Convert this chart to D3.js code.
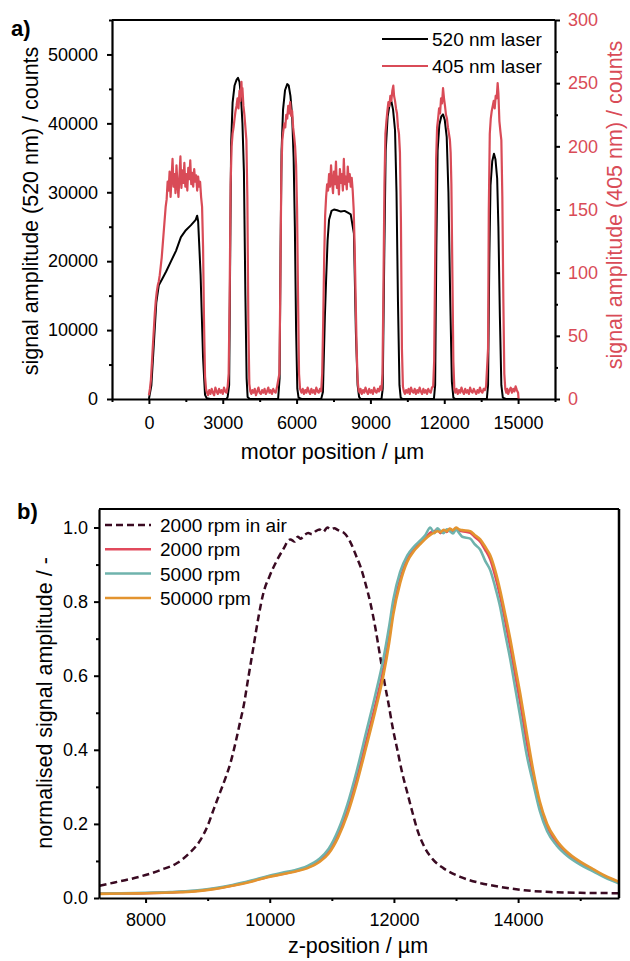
<!DOCTYPE html>
<html><head><meta charset="utf-8">
<script src="https://cdn.jsdelivr.net/npm/d3@7"></script>
<style>
html,body{margin:0;padding:0;background:#fff;}
text{font-family:"Liberation Sans",Arial,sans-serif;}
</style></head>
<body><svg id="c" width="630" height="961"></svg>
<script>
// ---------- Panel a data ----------
const black520X = [0,100,200,300,400,550,700,900,1100,1300,1500,1700,1900,1960,2000,2100,2200,2280,2350,2500,
 3150,3200,3260,3300,3340,3400,3480,3560,3620,3680,3740,3800,3860,3920,3970,4010,4100,
 5250,5310,5350,5390,5450,5530,5620,5680,5750,5820,5880,5930,5980,6030,6080,6200,
 7000,7070,7150,7200,7260,7320,7420,7520,7650,7800,7950,8100,8200,8260,8330,8410,8480,8540,8600,
 9450,9500,9560,9620,9700,9780,9850,9920,10000,10060,10120,10180,10230,10300,
 11580,11630,11680,11730,11800,11880,11950,12020,12100,12170,12240,12310,12370,12450,
 13730,13780,13830,13880,13950,14020,14080,14150,14200,14260,14320,14380,14500,15000];
const black520Y = [0,2000,8000,14000,16500,17500,18500,20000,21500,23500,24500,25200,26000,26600,25800,18000,6000,600,100,0,
 0,300,2000,20000,37000,43000,45500,46300,46600,46000,44000,40000,33000,15000,3000,300,0,
 0,3000,22000,36000,42000,44800,45700,45500,44000,41000,35000,25000,10000,1500,200,0,
 0,1000,12000,17300,23000,26000,27300,27500,27400,27200,27300,27000,26800,25500,24000,9600,2000,300,0,
 0,1500,20000,36000,41000,42800,43200,42000,39000,30000,14000,2000,200,0,
 0,2000,22000,36000,39800,41000,41300,40500,38000,30000,15000,2500,200,0,
 0,2000,20000,31000,34500,35600,34800,32000,25000,12000,2000,200,0,0];
const red405X = [0,40,80,120,160,200,240,280,320,360,400,440,480,520,560,600,640,680,720,
 760,800,840,880,920,960,1000,1040,1080,1120,1160,1200,1240,1280,1320,1360,1400,1440,1480,1520,1560,1600,1640,1680,1720,1760,1800,1840,1880,1920,1960,2000,2040,2080,2120,2160,2200,2240,2280,2320,
 2360,2400,2450,2500,2550,2600,2650,2700,2750,2800,2850,2900,2950,3000,3050,3100,3150,3200,
 3240,3280,3320,3360,3400,3440,3480,3520,3560,3600,3640,3680,3720,3760,3780,3800,3840,3880,3920,3960,4000,4040,4080,4120,
 4160,4200,4250,4300,4350,4400,4450,4500,4550,4600,4650,4700,4750,4800,4850,4900,4950,5000,5050,5100,5150,5200,
 5300,5340,5380,5420,5460,5500,5540,5580,5620,5660,5700,5740,5780,5820,5860,5900,5940,5980,6020,6060,6100,6140,
 6200,6250,6300,6350,6400,6450,6500,6550,6600,6650,6700,6750,6800,6850,6900,6950,7000,
 7040,7080,7120,7160,7200,7240,7280,7320,7360,7400,7440,7480,7520,7560,7600,7640,7680,7720,7760,7800,7840,7880,7920,7960,8000,8040,8080,8120,8160,8200,8240,8280,8320,8360,8400,8440,8480,8520,
 8560,8600,8650,8700,8750,8800,8850,8900,8950,9000,9050,9100,9150,9200,9250,9300,9350,9400,9450,
 9490,9530,9570,9610,9650,9690,9730,9770,9810,9850,9890,9930,9960,10000,10040,10080,10120,10160,10200,10240,10280,10320,10360,
 10400,10450,10500,10550,10600,10650,10700,10750,10800,10850,10900,10950,11000,11050,11100,11150,11200,11250,11300,11350,11400,11450,11500,11550,
 11590,11630,11670,11710,11750,11790,11830,11870,11910,11950,11990,12030,12070,12110,12150,12190,12230,12260,12290,12330,12370,12410,
 12450,12500,12550,12600,12650,12700,12750,12800,12850,12900,12950,13000,13050,13100,13150,13200,13250,13300,13350,13400,13450,13500,13550,13600,13650,13700,
 13780,13810,13850,13890,13930,13970,14010,14050,14090,14130,14170,14200,14240,14280,14320,14360,14400,14440,14480,
 14520,14560,14600,14650,14700,14750,14800,14850,14900,14950,15000,15020];
const red405Y = [3,8,15,28,42,55,68,78,85,90,93,98,105,112,122,132,142,152,158,
 172,165,180,160,175,190,168,178,163,185,170,160,176,192,167,181,171,187,168,178,165,183,174,189,170,179,168,182,172,177,165,176,168,172,160,152,120,60,18,8,
 5,3,7,4,8,5,3,9,6,4,8,5,7,4,9,6,5,10,
 20,80,170,200,210,215,222,228,232,238,230,244,236,251,240,246,232,225,215,205,160,60,12,6,
 4,7,5,8,3,6,9,5,4,7,5,8,4,6,9,5,7,4,8,6,5,9,
 20,90,180,205,212,218,215,225,222,232,226,235,224,228,215,208,200,185,150,80,20,8,
 5,8,4,7,5,9,6,4,8,5,7,4,9,6,5,8,6,
 20,60,110,145,160,170,165,178,168,185,172,163,180,170,188,167,176,162,182,171,178,165,190,170,176,166,184,172,178,168,175,165,150,120,80,40,15,7,
 5,8,4,7,5,9,6,4,8,5,7,4,9,6,5,8,6,10,7,
 20,90,170,210,220,228,235,232,240,236,244,248,240,236,230,226,215,210,195,140,40,10,6,
 4,7,5,8,4,9,6,5,8,4,7,5,9,6,4,8,5,7,4,8,6,5,9,10,
 30,110,190,215,222,230,226,238,234,246,238,232,225,222,215,210,205,195,170,100,30,8,
 5,8,4,7,5,9,6,4,8,5,7,4,9,6,5,8,6,4,7,5,9,6,5,8,7,10,
 40,150,210,222,228,232,236,230,240,238,250,242,220,212,205,160,80,20,8,
 5,8,4,7,9,5,8,6,10,7,5,0];
const xTicksA = [0,3000,6000,9000,12000,15000];
const xMinorA = [-1500,1500,4500,7500,10500,13500,16500];
const yTicksA = [0,10000,20000,30000,40000,50000];
const yMinorA = [5000,15000,25000,35000,45000,55000];
const y2TicksA = [0,50,100,150,200,250,300];
const y2MinorA = [25,75,125,175,225,275];
const legendA = ["520 nm laser","405 nm laser"];

// ---------- Panel b data ----------
const airX = [7260,7500,7750,8000,8250,8515,8700,8885,9000,9094,9200,9300,9368,9450,9529,9577,9650,9738,9820,9899,10000,10124,10230,10300,10333,10400,10450,10500,10560,10620,10680,10740,10800,10860,10928,10980,11040,11100,11138,11200,11300,11400,11460,11540,11620,11700,11780,11850,11910,11980,12055,12130,12216,12300,12377,12500,12634,12800,13068,13400,13712,14100,14517,15000,15620];
const airY = [0.033,0.042,0.051,0.062,0.076,0.095,0.12,0.157,0.195,0.238,0.285,0.33,0.365,0.42,0.48,0.516,0.59,0.678,0.76,0.824,0.87,0.914,0.945,0.965,0.968,0.962,0.975,0.97,0.98,0.985,0.982,0.99,0.995,0.988,1.0,0.995,0.998,0.993,0.99,0.985,0.96,0.92,0.895,0.85,0.797,0.73,0.65,0.58,0.527,0.46,0.40,0.34,0.284,0.23,0.184,0.135,0.103,0.08,0.057,0.04,0.03,0.021,0.016,0.014,0.013];
const solidX = [7260,7600,8000,8400,8800,9100,9400,9700,9963,10200,10400,10600,10800,10950,11100,11250,11400,11550,11700,11830,11920,11990,12100,12216,12320,12425,12500,12586,12650,12700,12750,12800,12850,12900,12950,13000,13050,13100,13229,13300,13390,13470,13551,13630,13712,13790,13873,13950,14034,14140,14243,14350,14468,14620,14790,15000,15208,15400,15620];
const rpm2000Y = [0.012,0.012,0.013,0.015,0.019,0.025,0.034,0.045,0.057,0.065,0.072,0.082,0.1,0.125,0.17,0.235,0.32,0.42,0.52,0.616,0.7,0.778,0.86,0.914,0.94,0.959,0.97,0.986,0.99,0.995,0.985,0.992,0.988,0.996,0.99,0.998,0.992,0.99,0.986,0.975,0.962,0.94,0.914,0.87,0.814,0.75,0.678,0.605,0.527,0.42,0.33,0.25,0.192,0.15,0.12,0.095,0.076,0.058,0.042];
const rpm5000Y = [0.012,0.013,0.014,0.016,0.02,0.026,0.035,0.047,0.059,0.068,0.075,0.086,0.106,0.133,0.182,0.252,0.342,0.445,0.548,0.645,0.73,0.805,0.88,0.925,0.948,0.965,0.978,1.0,0.985,0.998,0.99,0.985,0.995,0.99,0.984,0.994,0.985,0.975,0.97,0.955,0.94,0.91,0.885,0.84,0.785,0.715,0.645,0.57,0.49,0.385,0.31,0.235,0.18,0.142,0.114,0.09,0.072,0.055,0.04];
const rpm50000Y = [0.011,0.012,0.013,0.015,0.018,0.024,0.033,0.044,0.056,0.064,0.071,0.08,0.097,0.12,0.163,0.225,0.308,0.405,0.505,0.6,0.685,0.765,0.85,0.908,0.936,0.955,0.968,0.98,0.986,0.99,0.988,0.994,0.99,0.997,0.993,1.0,0.995,0.993,0.99,0.98,0.968,0.948,0.925,0.885,0.83,0.768,0.7,0.628,0.552,0.445,0.345,0.26,0.2,0.156,0.124,0.098,0.078,0.06,0.044];
const xTicksB = [8000,10000,12000,14000];
const xMinorB = [9000,11000,13000,15000];
const yTicksB = [0,0.2,0.4,0.6,0.8,1.0];
const yMinorB = [0.1,0.3,0.5,0.7,0.9];
const legendB = ["2000 rpm in air","2000 rpm","5000 rpm","50000 rpm"];

// ---------- drawing ----------
const svg = d3.select("#c");
const RED = "#d94b57";
const FS_TICK = 18, FS_TITLE = 21.5, FS_LEG = 19;

function styleAxis(g, color){
  g.select(".domain").attr("stroke", "#000").attr("stroke-width", 2.2);
  g.selectAll(".tick line").attr("stroke", "#000").attr("stroke-width", 2);
  g.selectAll(".tick text").attr("fill", color || "#000").style("font-size", FS_TICK + "px")
   .style("font-family", '"Liberation Sans",Arial,sans-serif');
}

// Panel a
const A = {l:112, r:555, t:20, b:399};
const xA = d3.scaleLinear().domain([-1500,16500]).range([A.l, A.r]);
const yA = d3.scaleLinear().domain([0,55000]).range([A.b, A.t]);
const y2A = d3.scaleLinear().domain([0,300]).range([A.b, A.t]);

svg.append("clipPath").attr("id","clipA").append("rect")
  .attr("x",A.l).attr("y",A.t).attr("width",A.r-A.l).attr("height",A.b-A.t);

const gA = svg.append("g");
const blackPts = black520X.map((x,i)=>[x, black520Y[i]]);
const redPts = red405X.map((x,i)=>[x, red405Y[i]]);
gA.append("path").datum(blackPts).attr("clip-path","url(#clipA)")
  .attr("fill","none").attr("stroke","#000").attr("stroke-width",2).attr("stroke-linejoin","round")
  .attr("d", d3.line().x(d=>xA(d[0])).y(d=>yA(d[1])));
gA.append("path").datum(redPts).attr("clip-path","url(#clipA)")
  .attr("fill","none").attr("stroke",RED).attr("stroke-width",2.2).attr("stroke-linejoin","round")
  .attr("d", d3.line().x(d=>xA(d[0])).y(d=>y2A(d[1])));

// axes a
gA.append("g").attr("transform",`translate(0,${A.b})`)
  .call(d3.axisBottom(xA).tickValues(xMinorA).tickSize(3).tickFormat(""))
  .call(g=>{styleAxis(g); g.select(".domain").remove();});
gA.append("g").attr("transform",`translate(0,${A.b})`)
  .call(d3.axisBottom(xA).tickValues(xTicksA).tickSize(5).tickPadding(12).tickSizeOuter(0).tickFormat(d3.format("d")))
  .call(g=>styleAxis(g));
gA.append("g").attr("transform",`translate(${A.l},0)`)
  .call(d3.axisLeft(yA).tickValues(yMinorA).tickSize(3).tickFormat(""))
  .call(g=>{styleAxis(g); g.select(".domain").remove();});
gA.append("g").attr("transform",`translate(${A.l},0)`)
  .call(d3.axisLeft(yA).tickValues(yTicksA).tickSize(5).tickPadding(9).tickSizeOuter(0).tickFormat(d3.format("d")))
  .call(g=>styleAxis(g));
gA.append("g").attr("transform",`translate(${A.r},0)`)
  .call(d3.axisRight(y2A).tickValues(y2MinorA).tickSize(3).tickFormat(""))
  .call(g=>{styleAxis(g); g.select(".domain").remove();});
gA.append("g").attr("transform",`translate(${A.r},0)`)
  .call(d3.axisRight(y2A).tickValues(y2TicksA).tickSize(5).tickPadding(8).tickSizeOuter(0).tickFormat(d3.format("d")))
  .call(g=>styleAxis(g, RED));
gA.append("line").attr("x1",A.l).attr("x2",A.r).attr("y1",A.t).attr("y2",A.t)
  .attr("stroke","#000").attr("stroke-width",2.2);

// titles a
svg.append("text").attr("x",(A.l+A.r)/2-1).attr("y",459).attr("text-anchor","middle")
  .style("font-size",FS_TITLE+"px").text("motor position / µm");
svg.append("text").attr("transform","translate(38,211) rotate(-90)").attr("text-anchor","middle")
  .style("font-size",FS_TITLE+"px").text("signal amplitude (520 nm) / counts");
svg.append("text").attr("transform","translate(622,205) rotate(-90)").attr("text-anchor","middle")
  .attr("fill",RED).style("font-size",FS_TITLE+"px").text("signal amplitude (405 nm) / counts");
svg.append("text").attr("x",11).attr("y",36).style("font-size","22px").style("font-weight","bold").text("a)");

// legend a
const legColA = ["#000", RED];
legendA.forEach((t,i)=>{
  const y = 39 + i*27;
  svg.append("line").attr("x1",382).attr("x2",428).attr("y1",y).attr("y2",y)
    .attr("stroke",legColA[i]).attr("stroke-width",2);
  svg.append("text").attr("x",432).attr("y",y+7).style("font-size",FS_LEG+"px").text(t);
});

// Panel b
const B = {l:99, r:619, t:509, b:898};
const xB = d3.scaleLinear().domain([7250,15625]).range([B.l, B.r]);
const yB = d3.scaleLinear().domain([0,1.05]).range([B.b, B.t]);
svg.append("clipPath").attr("id","clipB").append("rect")
  .attr("x",B.l).attr("y",B.t).attr("width",B.r-B.l).attr("height",B.b-B.t);
const gB = svg.append("g");
const lineB = d3.line().x(d=>xB(d[0])).y(d=>yB(d[1])).curve(d3.curveMonotoneX);
const solidSeries = [
  {y:rpm2000Y, c:"#e14a5c"},
  {y:rpm5000Y, c:"#6fb3ad"},
  {y:rpm50000Y, c:"#e3942f"}
];
gB.append("path").datum(airX.map((x,i)=>[x, airY[i]])).attr("clip-path","url(#clipB)")
  .attr("fill","none").attr("stroke","#3a0a22").attr("stroke-width",2.5).attr("stroke-dasharray","7,4")
  .attr("d", lineB);
solidSeries.forEach(s=>{
  gB.append("path").datum(solidX.map((x,i)=>[x, s.y[i]])).attr("clip-path","url(#clipB)")
    .attr("fill","none").attr("stroke",s.c).attr("stroke-width",2.6).attr("stroke-linejoin","round")
    .attr("d", lineB);
});

gB.append("g").attr("transform",`translate(0,${B.b})`)
  .call(d3.axisBottom(xB).tickValues(xMinorB).tickSize(3).tickFormat(""))
  .call(g=>{styleAxis(g); g.select(".domain").remove();});
gB.append("g").attr("transform",`translate(0,${B.b})`)
  .call(d3.axisBottom(xB).tickValues(xTicksB).tickSize(5).tickPadding(10).tickSizeOuter(0).tickFormat(d3.format("d")))
  .call(g=>styleAxis(g));
gB.append("g").attr("transform",`translate(${B.l},0)`)
  .call(d3.axisLeft(yB).tickValues(yMinorB).tickSize(3).tickFormat(""))
  .call(g=>{styleAxis(g); g.select(".domain").remove();});
gB.append("g").attr("transform",`translate(${B.l},0)`)
  .call(d3.axisLeft(yB).tickValues(yTicksB).tickSize(5).tickPadding(6).tickSizeOuter(0).tickFormat(d3.format(".1f")))
  .call(g=>styleAxis(g));
gB.append("line").attr("x1",B.l).attr("x2",B.r).attr("y1",B.t).attr("y2",B.t)
  .attr("stroke","#000").attr("stroke-width",2.2);
gB.append("line").attr("x1",B.r).attr("x2",B.r).attr("y1",B.t).attr("y2",B.b)
  .attr("stroke","#000").attr("stroke-width",2.5);

svg.append("text").attr("x",358).attr("y",953).attr("text-anchor","middle")
  .style("font-size",FS_TITLE+"px").text("z-position / µm");
svg.append("text").attr("transform","translate(52,703) rotate(-90)").attr("text-anchor","middle")
  .style("font-size",FS_TITLE+"px").text("normalised signal amplitude / -");
svg.append("text").attr("x",17).attr("y",519).style("font-size","22px").style("font-weight","bold").text("b)");

// legend b
const legColB = ["#3a0a22","#e14a5c","#6fb3ad","#e3942f"];
legendB.forEach((t,i)=>{
  const y = 525 + i*24.3;
  svg.append("line").attr("x1",105).attr("x2",151).attr("y1",y).attr("y2",y)
    .attr("stroke",legColB[i]).attr("stroke-width",2.5)
    .attr("stroke-dasharray", i===0 ? "7,4" : null);
  svg.append("text").attr("x",160).attr("y",y+7).style("font-size",FS_LEG+"px").text(t);
});
</script></body></html>
